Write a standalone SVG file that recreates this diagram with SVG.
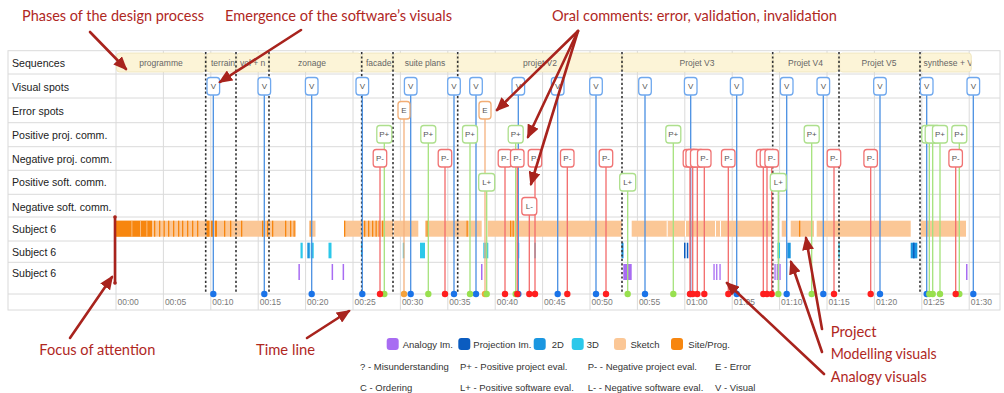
<svg xmlns="http://www.w3.org/2000/svg" width="1004" height="393" viewBox="0 0 1004 393">
<defs>
<style>
.grid{stroke:#dadada;stroke-width:1;fill:none}
.rl{font:10.6px "Liberation Sans",Arial,sans-serif;fill:#222}
.tl{font:8.5px "Liberation Sans",Arial,sans-serif;fill:#7a7a7a}
.sq{fill:#fcf4d7;stroke:#ece2b8;stroke-width:0.8}
.st{font:8.5px "Liberation Sans",Arial,sans-serif;fill:#666}
.dot{stroke:#333;stroke-width:1.6;stroke-dasharray:2.2 2.2}
.vl{stroke:#4a90e2;stroke-width:1.3}
.el{stroke:#f4b27f;stroke-width:1.3}
.pl{stroke:#a5e27c;stroke-width:1.3}
.nl{stroke:#f36b6b;stroke-width:1.3}
.vb{fill:#fff;stroke:#6fa8ee;stroke-width:1.3}
.eb{fill:#fff;stroke:#f2ad74;stroke-width:1.3}
.pb{fill:#fff;stroke:#addf8c;stroke-width:1.3}
.nb{fill:#fff;stroke:#f07373;stroke-width:1.3}
.bt{font:8px "Liberation Sans",Arial,sans-serif;fill:#555;text-anchor:middle}
.vd{fill:#1a73e8}.ed{fill:#f5a23c}.pd{fill:#98e04f}.nd{fill:#ff1f1f}
.pe{fill:#fbc796}.dk{fill:#f7860f}.wh{fill:#fff}
.c3{fill:#2bc8ea}.c2{fill:#1a96e0}.cp{fill:#0b5cc0}.pu{fill:#a86cf2}
.lg{font:9.5px "Liberation Sans",Arial,sans-serif;fill:#333}
.an{font:15px Lato,"Open Sans",sans-serif;fill:#b0281f}
.ar{stroke:#a8231d;stroke-width:2.6;fill:none;stroke-linecap:round}
</style>
<marker id="ah" markerUnits="userSpaceOnUse" markerWidth="14" markerHeight="12" refX="12" refY="6" orient="auto">
<path d="M0,0 L14,6 L0,12 z" fill="#a8231d"/>
</marker>
<clipPath id="c2"><rect x="206.5" y="53" width="29" height="19"/></clipPath>
<clipPath id="c3"><rect x="236.8" y="53" width="31.5" height="19"/></clipPath>
<clipPath id="c5"><rect x="362.3" y="53" width="30" height="19"/></clipPath>
<clipPath id="c11"><rect x="920.8" y="53" width="50.5" height="19"/></clipPath>
</defs>
<rect width="1004" height="393" fill="#fff"/>

<g id="table">
<rect x="8" y="50.7" width="992" height="259.3" class="grid"/>
<path class="grid" d="M8 74H1000M8 98H1000M8 122.7H1000M8 146.7H1000M8 170.3H1000M8 194.3H1000M8 217H1000M8 241H1000M8 262.3H1000M8 294H1000"/>
<path class="grid" d="M116 50.7V310M163.4 50.7V310M210.8 50.7V310M258.2 50.7V310M305.6 50.7V310M353 50.7V310M400.4 50.7V310M447.8 50.7V310M495.2 50.7V310M542.6 50.7V310M590 50.7V310M637.4 50.7V310M684.8 50.7V310M732.2 50.7V310M779.6 50.7V310M827 50.7V310M874.4 50.7V310M921.8 50.7V310M969.2 50.7V310"/>
<text class="rl" x="12" y="66.5">Sequences</text>
<text class="rl" x="12" y="90.5">Visual spots</text>
<text class="rl" x="12" y="114.8">Error spots</text>
<text class="rl" x="12" y="138.5">Positive proj. comm.</text>
<text class="rl" x="12" y="162.5">Negative proj. comm.</text>
<text class="rl" x="12" y="185.5">Positive soft. comm.</text>
<text class="rl" x="12" y="210.5">Negative soft. comm.</text>
<text class="rl" x="12" y="233">Subject 6</text>
<text class="rl" x="12" y="255.5">Subject 6</text>
<text class="rl" x="12" y="276.5">Subject 6</text>
<g class="tl">
<text x="117.5" y="305">00:00</text><text x="164.9" y="305">00:05</text><text x="212.3" y="305">00:10</text><text x="259.7" y="305">00:15</text><text x="307.1" y="305">00:20</text><text x="354.5" y="305">00:25</text><text x="401.9" y="305">00:30</text><text x="449.3" y="305">00:35</text><text x="496.7" y="305">00:40</text><text x="544.1" y="305">00:45</text><text x="591.5" y="305">00:50</text><text x="638.9" y="305">00:55</text><text x="686.3" y="305">01:00</text><text x="733.7" y="305">01:05</text><text x="781.1" y="305">01:10</text><text x="828.5" y="305">01:15</text><text x="875.9" y="305">01:20</text><text x="923.3" y="305">01:25</text><text x="970.7" y="305">01:30</text>
</g>
</g>

<g id="sequences">
<rect class="sq" x="116.5" y="53" width="88.7" height="19" rx="3"/>
<rect class="sq" x="206.5" y="53" width="29" height="19" rx="3"/>
<rect class="sq" x="236.8" y="53" width="31.5" height="19" rx="3"/>
<rect class="sq" x="269.5" y="53" width="91.5" height="19" rx="3"/>
<rect class="sq" x="362.3" y="53" width="30" height="19" rx="3"/>
<rect class="sq" x="393.6" y="53" width="63.5" height="19" rx="3"/>
<rect class="sq" x="458.3" y="53" width="163.2" height="19" rx="3"/>
<rect class="sq" x="622.6" y="53" width="149.5" height="19" rx="3"/>
<rect class="sq" x="773.3" y="53" width="65" height="19" rx="3"/>
<rect class="sq" x="839.6" y="53" width="80" height="19" rx="3"/>
<rect class="sq" x="920.8" y="53" width="50.5" height="19" rx="3"/>
<text class="st" x="161" y="66" text-anchor="middle">programme</text>
<text class="st" x="211" y="66" clip-path="url(#c2)">terrain</text>
<text class="st" x="240" y="66" clip-path="url(#c3)">vol + n</text>
<text class="st" x="312" y="66" text-anchor="middle">zonage</text>
<text class="st" x="366" y="66" clip-path="url(#c5)">facade</text>
<text class="st" x="425" y="66" text-anchor="middle">suite plans</text>
<text class="st" x="540" y="66" text-anchor="middle">projet V2</text>
<text class="st" x="697" y="66" text-anchor="middle">Projet V3</text>
<text class="st" x="805.5" y="66" text-anchor="middle">Projet V4</text>
<text class="st" x="879" y="66" text-anchor="middle">Projet V5</text>
<text class="st" x="923.5" y="66" clip-path="url(#c11)">synthese + V</text>
</g>

<g id="activity-bars">
<rect class="pe" x="116" y="220.7" width="180" height="16"/>
<rect class="pe" x="309" y="220.7" width="6.5" height="16"/>
<rect class="pe" x="344" y="220.7" width="74.3" height="16"/>
<rect class="pe" x="425" y="220.7" width="56.7" height="16"/>
<rect class="pe" x="487.7" y="220.7" width="134" height="16"/>
<rect class="pe" x="631.7" y="220.7" width="140" height="16"/>
<rect class="pe" x="781.7" y="220.7" width="4.3" height="16"/>
<rect class="pe" x="790.7" y="220.7" width="23.3" height="16"/>
<rect class="pe" x="816.7" y="220.7" width="94" height="16"/>
<rect class="pe" x="920.7" y="220.7" width="45.3" height="16"/>
<rect class="dk" x="116" y="220.7" width="36" height="16"/>
<g class="pe"><rect x="131.5" y="220.7" width="0.8" height="16"/><rect x="140" y="220.7" width="0.8" height="16"/><rect x="146.5" y="220.7" width="0.8" height="16"/></g>
<g class="dk">
<rect x="154" y="220.7" width="1.3" height="16"/><rect x="159" y="220.7" width="1.3" height="16"/><rect x="163.5" y="220.7" width="1.3" height="16"/><rect x="168" y="220.7" width="1.3" height="16"/><rect x="173" y="220.7" width="1.3" height="16"/><rect x="178" y="220.7" width="1.3" height="16"/><rect x="182" y="220.7" width="1.3" height="16"/><rect x="187" y="220.7" width="1.3" height="16"/><rect x="192" y="220.7" width="1.3" height="16"/><rect x="197" y="220.7" width="1.3" height="16"/>
<rect x="206.5" y="220.7" width="3" height="16"/><rect x="211" y="220.7" width="2.5" height="16"/><rect x="215" y="220.7" width="2" height="16"/>
<rect x="224" y="220.7" width="1.3" height="16"/><rect x="230" y="220.7" width="1.3" height="16"/><rect x="241" y="220.7" width="1.3" height="16"/><rect x="262" y="220.7" width="1.3" height="16"/><rect x="267" y="220.7" width="1.3" height="16"/><rect x="272" y="220.7" width="1.3" height="16"/><rect x="285" y="220.7" width="1.3" height="16"/><rect x="290" y="220.7" width="1.3" height="16"/><rect x="293.5" y="220.7" width="1.3" height="16"/>
<rect x="310.5" y="220.7" width="1.3" height="16"/><rect x="344" y="220.7" width="1.3" height="16"/>
<rect x="364" y="220.7" width="1.3" height="16"/><rect x="368" y="220.7" width="1.3" height="16"/><rect x="372" y="220.7" width="1.3" height="16"/><rect x="375.5" y="220.7" width="1.3" height="16"/><rect x="378.5" y="220.7" width="1.3" height="16"/><rect x="382" y="220.7" width="1.3" height="16"/>
<rect x="426.5" y="220.7" width="1.3" height="16"/><rect x="466.5" y="220.7" width="1.3" height="16"/>
<rect x="510" y="220.7" width="1.3" height="16"/><rect x="512.5" y="220.7" width="1.3" height="16"/><rect x="799" y="220.7" width="1.3" height="16"/>
</g>
<g class="wh"><rect x="393" y="220.7" width="0.8" height="16"/><rect x="666.7" y="220.7" width="1" height="16"/><rect x="685" y="220.7" width="1" height="16"/><rect x="715" y="220.7" width="1" height="16"/><rect x="720" y="220.7" width="1" height="16"/></g>

<rect class="c3" x="300.5" y="242.7" width="2.2" height="15.6"/>
<rect class="c2" x="307.3" y="242.7" width="2.5" height="15.6"/>
<rect class="c3" x="310.7" y="242.7" width="3" height="15.6"/>
<rect class="c3" x="328.5" y="242.7" width="3" height="15.6"/>
<rect class="c3" x="361" y="242.7" width="2" height="14"/>
<rect class="c3" x="402.8" y="242.7" width="1.5" height="15.6"/>
<rect class="c3" x="420" y="242.7" width="5" height="15.6"/>
<rect class="c3" x="483.3" y="242.7" width="5" height="15.6"/>
<rect class="c2" x="517.7" y="242.7" width="1.5" height="15.6"/>
<rect class="c3" x="534.3" y="242.7" width="1.5" height="15.6"/>
<rect class="c2" x="621.5" y="242.7" width="2" height="15.6"/>
<rect class="cp" x="684" y="242.7" width="1.5" height="15.6"/>
<rect class="cp" x="686.8" y="242.7" width="1.5" height="15.6"/>
<rect class="c3" x="777.5" y="242.7" width="2.5" height="15.6"/>
<rect class="c2" x="787.3" y="242.7" width="3.4" height="15.6"/>
<rect class="c3" x="838.4" y="242.7" width="1.3" height="15.6"/>
<rect class="c2" x="910.7" y="242.7" width="6.6" height="15.6"/>
<rect class="cp" x="913" y="242.7" width="1.5" height="15.6"/>

<rect class="pu" x="298.4" y="264" width="1.5" height="16"/>
<rect class="pu" x="331.6" y="264" width="1.5" height="16"/>
<rect class="pu" x="342.6" y="264" width="1.5" height="16"/>
<rect class="pu" x="481" y="264" width="1.5" height="16"/>
<rect class="pu" x="623.3" y="264" width="8.4" height="16"/>
<rect class="pu" x="713.4" y="264" width="1.3" height="16"/>
<rect class="pu" x="716.1" y="264" width="1.3" height="16"/>
<rect class="pu" x="719.4" y="264" width="1.3" height="16"/>
<rect class="pu" x="774.4" y="264" width="1.3" height="16"/>
<rect class="pu" x="776.7" y="264" width="1.3" height="16"/>
<rect class="pu" x="779.4" y="264" width="1.3" height="16"/>
<rect class="pu" x="966" y="264" width="1.5" height="16"/>
</g>

<g id="phase-dividers" class="dot">
<path d="M205.7 52V294M236 52V294M269 52V294M361.7 52V294M393 52V294M457.7 52V294M622 52V294M772.7 52V294M839 52V294M920 52V294"/>
</g>

<g id="spot-lines">
<path class="vl" d="M213.3 95V294M264.3 95V294M311.7 95V294M362.3 95V294M410.7 95V294M454 95V294M476 95V294M518.3 95V294M557.7 95V294M596 95V294M645 95V294M690.7 95V294M736.7 95V294M786.7 95V294M823.3 95V294M880 95V294M926.7 95V294M973.3 95V294"/>
<path class="el" d="M404 119V294M485 119V294"/>
<path class="pl" d="M384.3 143V294M428.3 143V294M470 143V294M515.7 143V294M673.3 143V294M811.7 143V294M929.3 143V294M932.7 143V294M940 143V294M959.3 143V294"/>
<path class="pl" d="M486.7 191V294M627.7 191V294M778.3 191V294"/>
<path class="nl" d="M380 167V294M445 167V294M505 167V294M517.3 167V294M535 167V294M567.3 167V294M606 167V294M690 167V294M692.7 167V294M697.3 167V294M704.3 167V294M728.3 167V294M763.3 167V294M767 167V294M771.7 167V294M834 167V294M870.7 167V294M955.7 167V294"/>
<path class="nl" d="M529.3 215V294"/>
</g>

<g id="spot-dots">
<g class="vd"><circle cx="213.3" cy="294" r="3.2"/><circle cx="264.3" cy="294" r="3.2"/><circle cx="311.7" cy="294" r="3.2"/><circle cx="362.3" cy="294" r="3.2"/><circle cx="410.7" cy="294" r="3.2"/><circle cx="454" cy="294" r="3.2"/><circle cx="476" cy="294" r="3.2"/><circle cx="518.3" cy="294" r="3.2"/><circle cx="557.7" cy="294" r="3.2"/><circle cx="596" cy="294" r="3.2"/><circle cx="645" cy="294" r="3.2"/><circle cx="690.7" cy="294" r="3.2"/><circle cx="736.7" cy="294" r="3.2"/><circle cx="786.7" cy="294" r="3.2"/><circle cx="823.3" cy="294" r="3.2"/><circle cx="880" cy="294" r="3.2"/><circle cx="926.7" cy="294" r="3.2"/><circle cx="973.3" cy="294" r="3.2"/></g>
<g class="ed"><circle cx="404" cy="294" r="3.2"/><circle cx="485" cy="294" r="3.2"/></g>
<g class="pd"><circle cx="384.3" cy="294" r="3.2"/><circle cx="428.3" cy="294" r="3.2"/><circle cx="470" cy="294" r="3.2"/><circle cx="515.7" cy="294" r="3.2"/><circle cx="673.3" cy="294" r="3.2"/><circle cx="811.7" cy="294" r="3.2"/><circle cx="929.3" cy="294" r="3.2"/><circle cx="932.7" cy="294" r="3.2"/><circle cx="940" cy="294" r="3.2"/><circle cx="959.3" cy="294" r="3.2"/><circle cx="486.7" cy="294" r="3.2"/><circle cx="627.7" cy="294" r="3.2"/><circle cx="778.3" cy="294" r="3.2"/></g>
<g class="nd"><circle cx="380" cy="294" r="3.2"/><circle cx="445" cy="294" r="3.2"/><circle cx="505" cy="294" r="3.2"/><circle cx="517.3" cy="294" r="3.2"/><circle cx="535" cy="294" r="3.2"/><circle cx="567.3" cy="294" r="3.2"/><circle cx="606" cy="294" r="3.2"/><circle cx="690" cy="294" r="3.2"/><circle cx="692.7" cy="294" r="3.2"/><circle cx="697.3" cy="294" r="3.2"/><circle cx="704.3" cy="294" r="3.2"/><circle cx="728.3" cy="294" r="3.2"/><circle cx="763.3" cy="294" r="3.2"/><circle cx="767" cy="294" r="3.2"/><circle cx="771.7" cy="294" r="3.2"/><circle cx="834" cy="294" r="3.2"/><circle cx="870.7" cy="294" r="3.2"/><circle cx="955.7" cy="294" r="3.2"/><circle cx="529.3" cy="294" r="3.2"/></g>
</g>

<g id="visual-spots">
<g class="vb"><rect x="207" y="77.5" width="12.6" height="17.5" rx="3"/><rect x="258" y="77.5" width="12.6" height="17.5" rx="3"/><rect x="305.4" y="77.5" width="12.6" height="17.5" rx="3"/><rect x="356" y="77.5" width="12.6" height="17.5" rx="3"/><rect x="404.4" y="77.5" width="12.6" height="17.5" rx="3"/><rect x="447.7" y="77.5" width="12.6" height="17.5" rx="3"/><rect x="469.7" y="77.5" width="12.6" height="17.5" rx="3"/><rect x="512" y="77.5" width="12.6" height="17.5" rx="3"/><rect x="551.4" y="77.5" width="12.6" height="17.5" rx="3"/><rect x="589.7" y="77.5" width="12.6" height="17.5" rx="3"/><rect x="638.7" y="77.5" width="12.6" height="17.5" rx="3"/><rect x="684.4" y="77.5" width="12.6" height="17.5" rx="3"/><rect x="730.4" y="77.5" width="12.6" height="17.5" rx="3"/><rect x="780.4" y="77.5" width="12.6" height="17.5" rx="3"/><rect x="817" y="77.5" width="12.6" height="17.5" rx="3"/><rect x="873.7" y="77.5" width="12.6" height="17.5" rx="3"/><rect x="920.4" y="77.5" width="12.6" height="17.5" rx="3"/><rect x="967" y="77.5" width="12.6" height="17.5" rx="3"/></g>
<g class="bt"><text x="213.3" y="89.3">V</text><text x="264.3" y="89.3">V</text><text x="311.7" y="89.3">V</text><text x="362.3" y="89.3">V</text><text x="410.7" y="89.3">V</text><text x="454" y="89.3">V</text><text x="476" y="89.3">V</text><text x="518.3" y="89.3">V</text><text x="557.7" y="89.3">V</text><text x="596" y="89.3">V</text><text x="645" y="89.3">V</text><text x="690.7" y="89.3">V</text><text x="736.7" y="89.3">V</text><text x="786.7" y="89.3">V</text><text x="823.3" y="89.3">V</text><text x="880" y="89.3">V</text><text x="926.7" y="89.3">V</text><text x="973.3" y="89.3">V</text></g>
</g>

<g id="error-spots">
<rect class="eb" x="398" y="101.5" width="12" height="17.5" rx="3"/><rect class="eb" x="479" y="101.5" width="12" height="17.5" rx="3"/>
<text class="bt" x="404" y="113.3">E</text><text class="bt" x="485" y="113.3">E</text>
</g>

<g id="positive-project">
<g class="pb"><rect x="376.8" y="125.5" width="15" height="17.5" rx="3"/><rect x="420.8" y="125.5" width="15" height="17.5" rx="3"/><rect x="462.5" y="125.5" width="15" height="17.5" rx="3"/><rect x="508.2" y="125.5" width="15" height="17.5" rx="3"/><rect x="665.8" y="125.5" width="15" height="17.5" rx="3"/><rect x="804.2" y="125.5" width="15" height="17.5" rx="3"/><rect x="921.8" y="125.5" width="15" height="17.5" rx="3"/><rect x="925.2" y="125.5" width="15" height="17.5" rx="3"/><rect x="932.5" y="125.5" width="15" height="17.5" rx="3"/><rect x="951.8" y="125.5" width="15" height="17.5" rx="3"/></g>
<g class="bt"><text x="384.3" y="137.3">P+</text><text x="428.3" y="137.3">P+</text><text x="470" y="137.3">P+</text><text x="515.7" y="137.3">P+</text><text x="673.3" y="137.3">P+</text><text x="811.7" y="137.3">P+</text><text x="940" y="137.3">P+</text><text x="959.3" y="137.3">P+</text></g>
</g>

<g id="negative-project">
<g class="nb"><rect x="373.2" y="149.5" width="13.5" height="17.5" rx="3"/><rect x="438.2" y="149.5" width="13.5" height="17.5" rx="3"/><rect x="498.2" y="149.5" width="13.5" height="17.5" rx="3"/><rect x="510.5" y="149.5" width="13.5" height="17.5" rx="3"/><rect x="528.2" y="149.5" width="13.5" height="17.5" rx="3"/><rect x="560.5" y="149.5" width="13.5" height="17.5" rx="3"/><rect x="599.2" y="149.5" width="13.5" height="17.5" rx="3"/><rect x="683.2" y="149.5" width="13.5" height="17.5" rx="3"/><rect x="685.9" y="149.5" width="13.5" height="17.5" rx="3"/><rect x="690.5" y="149.5" width="13.5" height="17.5" rx="3"/><rect x="697.5" y="149.5" width="13.5" height="17.5" rx="3"/><rect x="721.5" y="149.5" width="13.5" height="17.5" rx="3"/><rect x="756.5" y="149.5" width="13.5" height="17.5" rx="3"/><rect x="760.2" y="149.5" width="13.5" height="17.5" rx="3"/><rect x="764.9" y="149.5" width="13.5" height="17.5" rx="3"/><rect x="827.2" y="149.5" width="13.5" height="17.5" rx="3"/><rect x="863.9" y="149.5" width="13.5" height="17.5" rx="3"/><rect x="948.9" y="149.5" width="13.5" height="17.5" rx="3"/></g>
<g class="bt"><text x="380" y="161.3">P-</text><text x="445" y="161.3">P-</text><text x="505" y="161.3">P-</text><text x="517.3" y="161.3">P-</text><text x="535" y="161.3">P-</text><text x="567.3" y="161.3">P-</text><text x="606" y="161.3">P-</text><text x="704.3" y="161.3">P-</text><text x="728.3" y="161.3">P-</text><text x="771.7" y="161.3">P-</text><text x="834" y="161.3">P-</text><text x="870.7" y="161.3">P-</text><text x="955.7" y="161.3">P-</text></g>
</g>

<g id="positive-software">
<g class="pb"><rect x="478.7" y="173.5" width="16" height="17.5" rx="3"/><rect x="619.7" y="173.5" width="16" height="17.5" rx="3"/><rect x="770.3" y="173.5" width="16" height="17.5" rx="3"/></g>
<g class="bt"><text x="486.7" y="185.3">L+</text><text x="627.7" y="185.3">L+</text><text x="778.3" y="185.3">L+</text></g>
</g>

<g id="negative-software">
<rect class="nb" x="521.8" y="197.5" width="15" height="17.5" rx="3"/>
<text class="bt" x="529.3" y="209.3">L-</text>
</g>

<g id="legend">
<rect class="pu" x="386.7" y="338" width="12" height="12" rx="3"/><text class="lg" x="402.7" y="347.5">Analogy Im.</text>
<rect class="cp" x="458.3" y="338" width="12" height="12" rx="3"/><text class="lg" x="473.3" y="347.5">Projection Im.</text>
<rect class="c2" x="533.7" y="338" width="12" height="12" rx="3"/><text class="lg" x="551.7" y="347.5">2D</text>
<rect class="c3" x="571.7" y="338" width="12" height="12" rx="3"/><text class="lg" x="586.7" y="347.5">3D</text>
<rect class="pe" x="614" y="338" width="12" height="12" rx="3"/><text class="lg" x="630.5" y="347.5">Sketch</text>
<rect class="dk" x="671" y="338" width="12" height="12" rx="3"/><text class="lg" x="688.3" y="347.5">Site/Prog.</text>
<text class="lg" x="360" y="370">? - Misunderstanding</text>
<text class="lg" x="460" y="370">P+ - Positive project eval.</text>
<text class="lg" x="587.7" y="370">P- - Negative project eval.</text>
<text class="lg" x="715" y="370">E - Error</text>
<text class="lg" x="360" y="390.5">C - Ordering</text>
<text class="lg" x="460" y="390.5">L+ - Positive software eval.</text>
<text class="lg" x="587.7" y="390.5">L- - Negative software eval.</text>
<text class="lg" x="715" y="390.5">V - Visual</text>
</g>

<g id="annotation-labels">
<text id="lbl-phases" class="an" x="22" y="21" textLength="182" lengthAdjust="spacingAndGlyphs">Phases of the design process</text>
<text id="lbl-emergence" class="an" x="225" y="21" textLength="227" lengthAdjust="spacingAndGlyphs">Emergence of the software’s visuals</text>
<text id="lbl-oral" class="an" x="552" y="21" textLength="285" lengthAdjust="spacingAndGlyphs">Oral comments: error, validation, invalidation</text>
<text id="lbl-focus" class="an" x="39.3" y="355" textLength="116" lengthAdjust="spacingAndGlyphs">Focus of attention</text>
<text id="lbl-time" class="an" x="256" y="355" textLength="59" lengthAdjust="spacingAndGlyphs">Time line</text>
<text id="lbl-project" class="an" x="830.7" y="337" textLength="46" lengthAdjust="spacingAndGlyphs">Project</text>
<text id="lbl-modelling" class="an" x="830.7" y="358.5" textLength="106" lengthAdjust="spacingAndGlyphs">Modelling visuals</text>
<text id="lbl-analogy" class="an" x="830.7" y="382" textLength="96" lengthAdjust="spacingAndGlyphs">Analogy visuals</text>
</g>

<g id="connectors">
<path class="ar" marker-end="url(#ah)" d="M90 32L126 69"/>
<path class="ar" marker-end="url(#ah)" d="M301 30L220 82"/>
<path class="ar" marker-end="url(#ah)" d="M578 31L497 110"/>
<path class="ar" marker-end="url(#ah)" d="M578 31L528 137"/>
<path class="ar" marker-end="url(#ah)" d="M578 31L531 184"/>
<path class="ar" d="M115 217V283" stroke-width="2"/>
<circle cx="115" cy="217" r="1.8" fill="#a8231d"/><circle cx="115" cy="283" r="1.8" fill="#a8231d"/>
<path class="ar" marker-end="url(#ah)" d="M70 338L112 277"/>
<path class="ar" marker-end="url(#ah)" d="M307 338L349 311"/>
<path class="ar" marker-end="url(#ah)" d="M822 329L806 238"/>
<path class="ar" marker-end="url(#ah)" d="M822 352L791 262"/>
<path class="ar" marker-end="url(#ah)" d="M824 374L727 283"/>
</g>
</svg>
